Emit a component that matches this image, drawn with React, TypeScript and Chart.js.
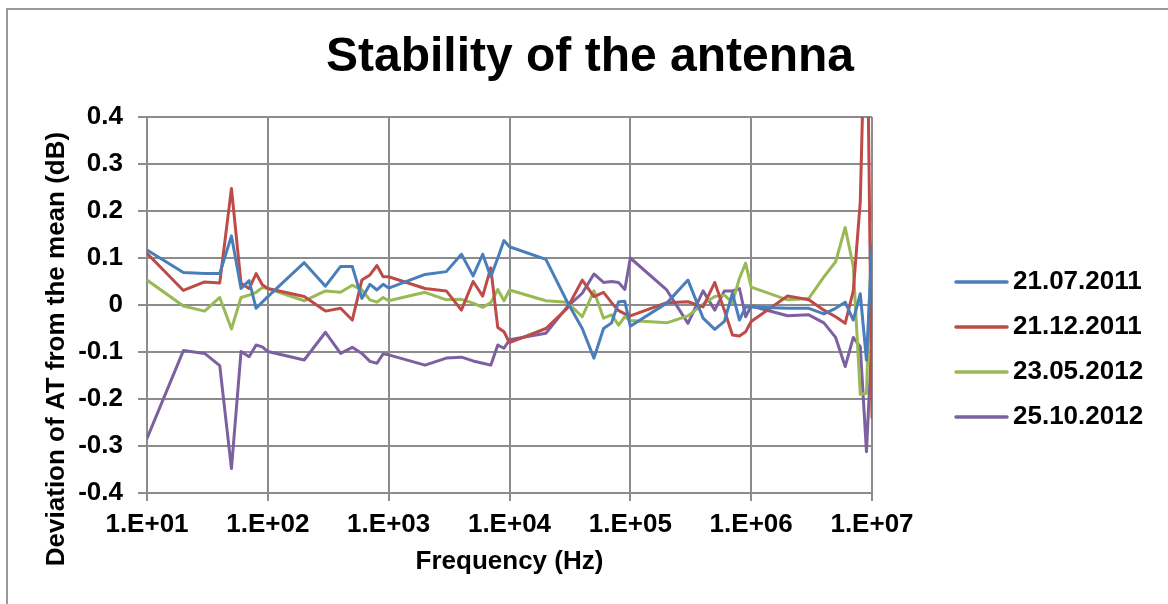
import React, { useEffect, useRef } from 'react';
import { Chart, registerables } from 'chart.js';

Chart.register(...registerables);

const FONT = "'Liberation Sans', Arial, Helvetica, sans-serif";

const chartTitle = 'Stability of the antenna';
const xAxisTitle = 'Frequency (Hz)';
const yAxisTitle = 'Deviation of AT from the mean (dB)';

const seriesLabels = ['21.07.2011', '21.12.2011', '23.05.2012', '25.10.2012'];
const seriesColors = ['#4A7EBB', '#BE4B48', '#98B954', '#7D60A0'];

const xTickValues = [1e1, 1e2, 1e3, 1e4, 1e5, 1e6, 1e7];
const xTickLabels = ['1.E+01', '1.E+02', '1.E+03', '1.E+04', '1.E+05', '1.E+06', '1.E+07'];

const freqHz = [
  10, 20, 30, 40, 50, 60, 70, 80, 90,
  100, 200, 300, 400, 500, 600, 700, 800, 900,
  1000, 2000, 3000, 4000, 5000, 6000, 7000, 8000, 9000,
  10000, 20000, 30000, 40000, 50000, 60000, 70000, 80000, 90000,
  100000, 200000, 300000, 400000, 500000, 600000, 700000, 800000, 900000,
  1000000, 2000000, 3000000, 4000000, 5000000, 6000000, 7000000, 8000000, 9000000,
  10000000,
];

const dev20110721 = [
  0.117, 0.069, 0.067, 0.067, 0.147, 0.035, 0.052, -0.007, 0.006,
  0.018, 0.090, 0.040, 0.082, 0.082, 0.014, 0.044, 0.032, 0.044,
  0.036, 0.065, 0.071, 0.108, 0.062, 0.108, 0.060, 0.100, 0.137,
  0.124, 0.097, 0.007, -0.050, -0.113, -0.050, -0.038, 0.007, 0.008,
  -0.045, 0.004, 0.053, -0.028, -0.052, -0.035, 0.025, -0.032, -0.004,
  -0.004, -0.007, -0.007, -0.019, -0.007, 0.006, -0.032, 0.024, -0.117,
  0.128,
];

const dev20111221 = [
  0.110, 0.031, 0.049, 0.047, 0.248, 0.046, 0.035, 0.067, 0.043,
  0.035, 0.018, -0.013, -0.007, -0.032, 0.053, 0.064, 0.084, 0.060,
  0.060, 0.035, 0.030, -0.011, 0.050, 0.019, 0.079, -0.048, -0.057,
  -0.080, -0.050, -0.007, 0.053, 0.018, 0.027, 0.005, -0.012, -0.019,
  -0.023, 0.005, 0.007, -0.004, 0.048, -0.011, -0.064, -0.066, -0.057,
  -0.035, 0.019, 0.011, -0.011, -0.025, -0.039, 0.030, 0.220, 0.750,
  -0.240,
];

const dev20120523 = [
  0.053, -0.002, -0.013, 0.016, -0.051, 0.016, 0.021, 0.027, 0.037,
  0.035, 0.009, 0.030, 0.027, 0.042, 0.032, 0.011, 0.006, 0.016,
  0.009, 0.027, 0.011, 0.012, 0.004, -0.005, 0.005, 0.033, 0.009,
  0.032, 0.009, 0.006, -0.025, 0.030, -0.028, -0.021, -0.043, -0.025,
  -0.033, -0.038, -0.023, 0.002, 0.018, 0.021, 0.005, 0.057, 0.089,
  0.038, 0.011, 0.014, 0.060, 0.092, 0.165, 0.082, -0.190, -0.188,
  0.174,
];

const dev20121025 = [
  -0.284, -0.097, -0.103, -0.129, -0.348, -0.099, -0.110, -0.085, -0.089,
  -0.099, -0.117, -0.058, -0.103, -0.090, -0.103, -0.120, -0.124, -0.104,
  -0.106, -0.128, -0.113, -0.111, -0.119, -0.124, -0.128, -0.085, -0.092,
  -0.074, -0.060, -0.004, 0.025, 0.066, 0.048, 0.050, 0.048, 0.033,
  0.100, 0.032, -0.039, 0.030, -0.011, 0.030, 0.030, 0.035, -0.025,
  -0.002, -0.023, -0.021, -0.038, -0.069, -0.131, -0.069, -0.089, -0.312,
  -0.064,
];

const seriesValues = [dev20110721, dev20111221, dev20120523, dev20121025];

const GRID = '#8c8c8c';

const decorPlugin = {
  id: 'decor',
  afterDraw(chart: any) {
    const ctx = chart.ctx as CanvasRenderingContext2D;
    ctx.save();
    ctx.fillStyle = '#000';
    ctx.textAlign = 'center';
    ctx.textBaseline = 'middle';
    ctx.font = `bold 48px ${FONT}`;
    ctx.fillText(chartTitle, 590, 58);

    ctx.save();
    ctx.translate(57, 349);
    ctx.rotate(-Math.PI / 2);
    ctx.font = `bold 26px ${FONT}`;
    ctx.fillText(yAxisTitle, 0, 0);
    ctx.restore();

    chart.data.datasets.forEach((ds: any, i: number) => {
      const y = 282 + 45 * i;
      ctx.strokeStyle = ds.borderColor;
      ctx.lineWidth = 3.5;
      ctx.lineCap = 'round';
      ctx.beginPath();
      ctx.moveTo(956, y);
      ctx.lineTo(1007, y);
      ctx.stroke();
      ctx.fillStyle = '#000';
      ctx.textAlign = 'left';
      ctx.font = `bold 26px ${FONT}`;
      ctx.fillText(ds.label, 1013, y);
    });
    ctx.restore();
  },
};

export default function App() {
  const ref = useRef<HTMLCanvasElement | null>(null);

  useEffect(() => {
    if (!ref.current) return;
    const datasets = seriesLabels.map((label, i) => ({
      label,
      data: freqHz.map((f, j) => ({ x: f, y: seriesValues[i][j] })),
      borderColor: seriesColors[i],
      backgroundColor: seriesColors[i],
      borderWidth: 3,
      pointRadius: 0,
      pointHoverRadius: 0,
      tension: 0,
      fill: false,
      borderJoinStyle: 'round' as const,
      borderCapStyle: 'round' as const,
      clip: 0,
    }));

    const chart = new Chart(ref.current, {
      type: 'line',
      data: { datasets },
      plugins: [decorPlugin],
      options: {
        animation: false,
        responsive: false,
        devicePixelRatio: 1,
        layout: { padding: { top: 117, right: 296, left: 0, bottom: 0 } },
        plugins: {
          legend: { display: false },
          title: { display: false },
          tooltip: { enabled: false },
        },
        scales: {
          x: {
            type: 'logarithmic',
            min: 10,
            max: 1e7,
            afterBuildTicks: (s: any) => {
              s.ticks = xTickValues.map((v) => ({ value: v }));
            },
            afterFit: (s: any) => {
              s.height = 111;
            },
            ticks: {
              autoSkip: false,
              maxRotation: 0,
              minRotation: 0,
              padding: 8,
              color: '#000',
              font: { family: FONT, size: 26, weight: 'bold' },
              callback: (v: any) => {
                const idx = xTickValues.indexOf(Number(v));
                return idx >= 0 ? xTickLabels[idx] : '';
              },
            },
            grid: {
              color: GRID,
              lineWidth: 2,
              drawTicks: true,
              tickLength: 8,
              tickColor: GRID,
            },
            border: { color: GRID, width: 2 },
            title: {
              display: true,
              text: xAxisTitle,
              color: '#000',
              font: { family: FONT, size: 26, weight: 'bold' },
              padding: { top: 0, bottom: 27 },
            },
          },
          y: {
            type: 'linear',
            min: -0.4,
            max: 0.4,
            afterFit: (s: any) => {
              s.width = 147;
            },
            ticks: {
              stepSize: 0.1,
              padding: 15,
              color: '#000',
              font: { family: FONT, size: 26, weight: 'bold' },
              callback: (v: any) => String(Number(Number(v).toFixed(1))),
            },
            grid: {
              color: GRID,
              lineWidth: 2,
              drawTicks: true,
              tickLength: 9,
              tickColor: GRID,
            },
            border: { color: GRID, width: 2 },
          },
        },
      } as any,
    });
    return () => chart.destroy();
  }, []);

  return (
    <div style={{ position: 'absolute', left: 0, top: 0, width: 1168, height: 604, background: '#fff', overflow: 'hidden' }}>
      <div
        style={{
          position: 'absolute',
          left: 6,
          top: 8,
          width: 1200,
          height: 700,
          borderLeft: '2px solid #999',
          borderTop: '2px solid #999',
        }}
      />
      <canvas ref={ref} width={1168} height={604} style={{ position: 'absolute', left: 0, top: 0, width: 1168, height: 604 }} />
    </div>
  );
}
